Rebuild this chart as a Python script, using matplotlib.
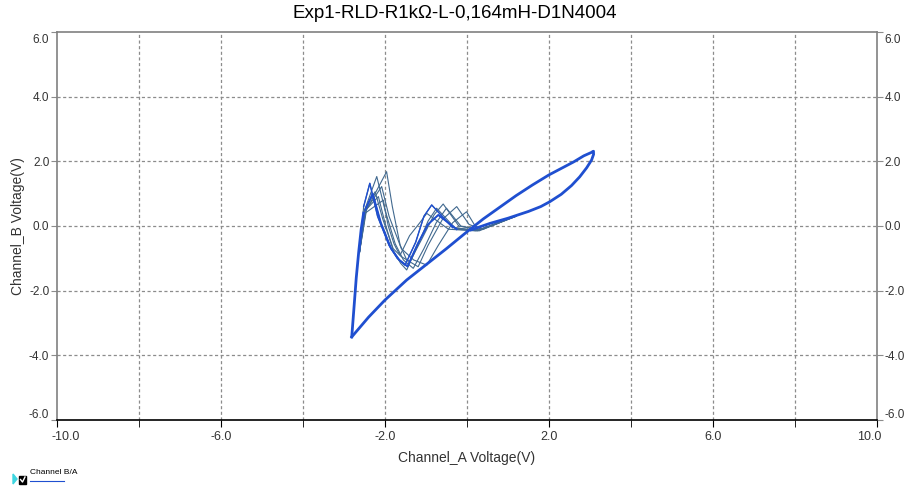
import matplotlib
matplotlib.use("Agg")
import matplotlib.pyplot as plt
from matplotlib.lines import Line2D
from matplotlib.patches import Rectangle, Polygon
import matplotlib.transforms as mtransforms

plt.rcParams['font.family'] = ['Liberation Sans', 'DejaVu Sans']

title = "Exp1-RLD-R1kΩ-L-0,164mH-D1N4004"
x_label = "Channel_A Voltage(V)"
y_label = "Channel_B Voltage(V)"
legend_label = "Channel B/A"

x_major = [-10.0, -6.0, -2.0, 2.0, 6.0, 10.0]
x_minor = [-8.0, -4.0, 0.0, 4.0, 8.0]
y_major = [-6.0, -4.0, -2.0, 0.0, 2.0, 4.0, 6.0]

# Steep rising edge, from the bottom-left tip upward
rise_x = [-2.81, -2.76, -2.70, -2.64, -2.58, -2.52]
rise_y = [-3.43, -2.60, -1.60, -0.80, -0.10, 0.40]

# Lower edge of the narrow loop, from the settling point to the top-right tip
lower_x = [0.10, 0.56, 1.00, 1.50, 1.80, 2.02, 2.30, 2.55, 2.75, 2.92, 3.04, 3.09, 3.08]
lower_y = [-0.12, 0.08, 0.24, 0.45, 0.60, 0.75, 0.98, 1.25, 1.52, 1.80, 2.04, 2.22, 2.30]

# Return branch, from the top-right tip back to the bottom-left tip
ret_x = [3.08, 2.85, 2.60, 2.30, 2.00, 1.60, 1.20, 0.80, 0.40, 0.00, -0.50,
         -1.00, -1.47, -2.00, -2.40, -2.81]
ret_y = [2.30, 2.17, 1.98, 1.78, 1.58, 1.27, 0.94, 0.58, 0.22, -0.18, -0.70,
         -1.20, -1.67, -2.29, -2.82, -3.43]

# Ringing after the rising edge, one list per captured cycle
ring_x = [
    [-2.62, -2.45, -1.96, -1.82, -1.63, -1.47, -1.19, -0.95, -0.60, -0.25, 0.05, 0.35, 0.75, 1.20],
    [-2.62, -2.48, -2.20, -2.00, -1.75, -1.55, -1.31, -1.05, -0.75, -0.50, -0.15, 0.30, 0.75, 1.20],
    [-2.62, -2.52, -2.37, -2.18, -1.90, -1.70, -1.51, -1.25, -1.05, -0.86, -0.35, 0.25, 0.70, 1.15],
    [-2.62, -2.46, -2.08, -1.90, -1.60, -1.30, -0.98, -0.70, -0.35, -0.01, 0.20, 0.40, 0.80, 1.25],
    [-2.62, -2.50, -2.24, -2.05, -1.80, -1.60, -1.39, -1.10, -0.80, -0.58, -0.20, 0.30, 0.75, 1.20],
    [-2.62, -2.50, -2.16, -2.00, -1.80, -1.62, -1.47, -1.20, -0.95, -0.74, -0.30, 0.25, 0.70, 1.15],
    [-2.62, -2.48, -2.04, -1.92, -1.78, -1.70, -1.63, -1.40, -1.15, -0.98, -0.45, 0.20, 0.70, 1.10],
    [-2.62, -2.48, -2.30, -2.10, -1.85, -1.65, -1.45, -1.20, -0.95, -0.70, -0.25, 0.30, 0.75, 1.20],
]
ring_y = [
    [-0.80, 0.50, 1.68, 0.60, -0.59, -1.05, -1.26, -0.60, 0.20, 0.60, 0.05, -0.10, 0.10, 0.32],
    [-0.80, 0.55, 1.53, 0.50, -0.55, -1.05, -1.31, -0.70, 0.10, 0.55, 0.00, -0.12, 0.08, 0.30],
    [-0.80, 0.60, 1.32, 0.30, -0.60, -1.00, -1.21, -0.50, 0.30, 0.65, -0.05, -0.15, 0.06, 0.28],
    [-0.80, 0.50, 1.22, 0.30, -0.70, -1.05, -1.21, -0.60, 0.10, 0.44, 0.00, -0.10, 0.12, 0.35],
    [-0.80, 0.50, 1.06, 0.20, -0.70, -0.95, -1.10, -0.40, 0.35, 0.68, 0.00, -0.12, 0.09, 0.31],
    [-0.80, 0.45, 0.91, 0.10, -0.75, -1.15, -1.36, -0.60, 0.15, 0.55, -0.05, -0.14, 0.07, 0.29],
    [-0.80, 0.40, 0.80, 0.00, -0.55, -0.75, -0.90, -0.30, 0.10, 0.39, -0.10, -0.15, 0.05, 0.27],
    [-0.80, 0.50, 1.00, 0.10, -0.70, -1.05, -1.25, -0.55, 0.05, 0.34, -0.10, -0.15, 0.08, 0.30],
]

thick_blue = "#1f4fd0"
thin_blue = "#41698f"

fig = plt.figure(figsize=(9.06, 4.86), dpi=100)
ax = fig.add_axes([0.0629, 0.1358, 0.905, 0.7984])

ax.set_xlim(-10, 10)
ax.set_ylim(-6, 6)

# grid every 2 V
for gx in x_major + x_minor:
    if -10 < gx < 10:
        ax.axvline(gx, color="#8c8c8c", lw=0.9, ls=(0, (2.5, 2.0)), zorder=1)
for gy in y_major:
    if -6 < gy < 6:
        ax.axhline(gy, color="#8c8c8c", lw=0.9, ls=(0, (2.5, 2.0)), zorder=1)

# ringing cycles
for cx, cy in zip(ring_x, ring_y):
    ax.plot(cx, cy, color=thin_blue, lw=0.8, zorder=3)

# main loop, drawn heavier
ax.plot(rise_x, rise_y, color=thick_blue, lw=2.0, zorder=4, solid_joinstyle="round")
ax.plot(ring_x[7][1:11], ring_y[7][1:11], color=thick_blue, lw=1.4, zorder=4)
ax.plot(ring_x[2][1:11], ring_y[2][1:11], color=thick_blue, lw=1.0, zorder=4)
ax.plot(lower_x, lower_y, color=thick_blue, lw=2.0, zorder=4, solid_joinstyle="round")
ax.plot(ret_x, ret_y, color=thick_blue, lw=2.0, zorder=4, solid_joinstyle="round")

# frame
for side in ("left", "top", "right"):
    ax.spines[side].set_color("#808080")
    ax.spines[side].set_linewidth(1.2)
ax.spines["bottom"].set_color("black")
ax.spines["bottom"].set_linewidth(1.2)

ax.set_xticks(x_major)
ax.set_xticks(x_minor, minor=True)
ax.set_xticklabels([f"{v:.1f}" for v in x_major])
ax.set_yticks(y_major)
ax.set_yticklabels([f"{v:.1f}" for v in y_major])
ax.tick_params(axis="x", which="both", direction="out", length=5, color="black",
               labelsize=9, labelcolor="#333333", pad=3)
ax.tick_params(axis="y", which="both", direction="out", length=4, color="#8c8c8c",
               labelsize=8.5, labelcolor="#333333", left=True, right=True,
               labelleft=True, labelright=True, pad=1.5)


def nudge(label, dx, dy):
    """Shift a tick label by (dx, dy) pixels."""
    label.set_transform(label.get_transform() +
                        mtransforms.ScaledTranslation(dx / 100, dy / 100, fig.dpi_scale_trans))


# end labels sit inward from the corners
xt = ax.get_xticklabels()
nudge(xt[0], 9, 0)
nudge(xt[-1], -8, 0)
for t in ax.yaxis.get_major_ticks():
    v = t.get_loc()
    if v == 6.0:
        nudge(t.label1, 0, -7)
        nudge(t.label2, 0, -7)
    elif v == -6.0:
        nudge(t.label1, 0, 7)
        nudge(t.label2, 0, 7)

ax.set_xlabel(x_label, fontsize=10, color="#333333", labelpad=6)
ax.set_ylabel(y_label, fontsize=10, color="#333333", labelpad=3)
fig.text(0.502, 1 - 13 / 486, title, fontsize=13.5, color="black",
         ha="center", va="center")

# legend strip at the bottom-left
fig.patches.append(Polygon([[13 / 906, 1 - 474 / 486], [13 / 906, 1 - 484 / 486],
                            [17 / 906, 1 - 479 / 486]], closed=True,
                           transform=fig.transFigure, color="#3fd6e0"))
fig.patches.append(Rectangle((19 / 906, 1 - 484 / 486), 7 / 906, 8 / 486,
                             transform=fig.transFigure, color="black"))
fig.lines.append(Line2D([20.5 / 906, 22.5 / 906, 25 / 906],
                        [1 - 479.5 / 486, 1 - 482 / 486, 1 - 477 / 486],
                        transform=fig.transFigure, color="white", lw=1.0))
fig.text(30 / 906, 1 - 472 / 486, legend_label, fontsize=6, color="black",
         va="center", ha="left")
fig.lines.append(Line2D([30 / 906, 64 / 906], [1 - 481 / 486, 1 - 481 / 486],
                        transform=fig.transFigure, color=thick_blue, lw=0.8))

fig.savefig("out.png", dpi=100)
